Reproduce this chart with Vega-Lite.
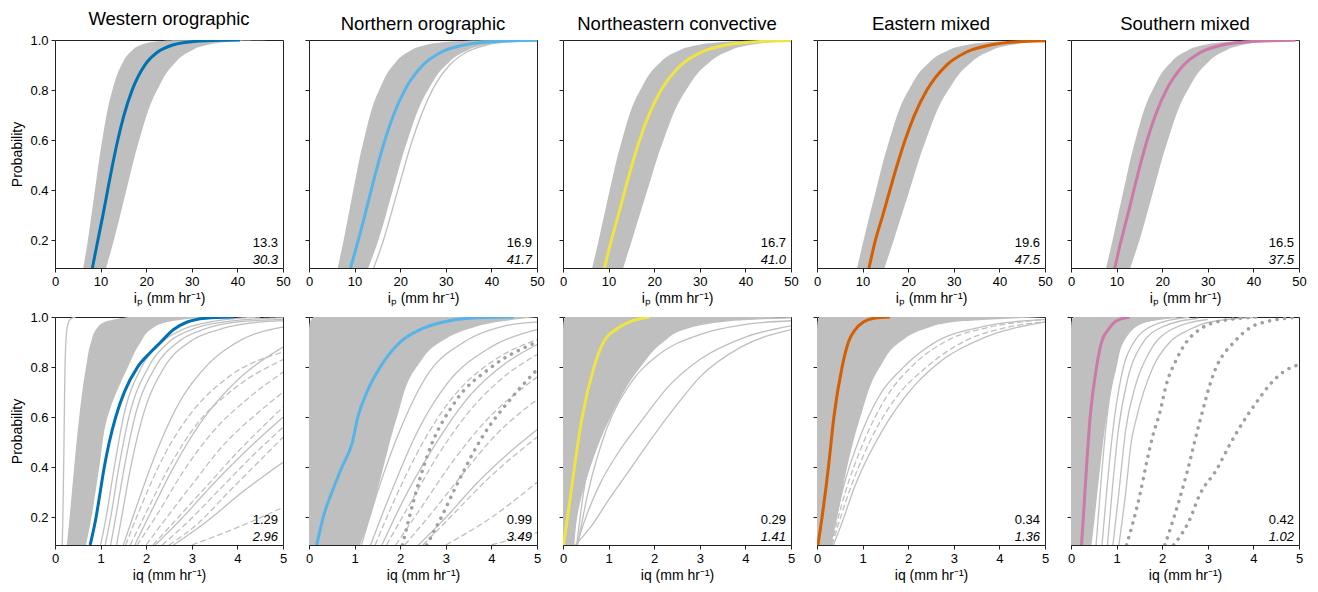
{
"$schema":"https://vega.github.io/schema/vega-lite/v6.json",
"padding":{"left":10,"top":9,"right":5,"bottom":5},
"datasets":{
"bands":[
{"g":"T1","p":0.09,"x":6.2,"hi":11.2},{"g":"T1","p":0.2,"x":7.2,"hi":12.9},{"g":"T1","p":0.4,"x":8.75,"hi":15.65},{"g":"T1","p":0.6,"x":10.35,"hi":18.47},{"g":"T1","p":0.8,"x":12.59,"hi":22.41},{"g":"T1","p":0.9,"x":14.57,"hi":25.89},{"g":"T1","p":0.95,"x":16.44,"hi":29.16},{"g":"T1","p":0.98,"x":18.83,"hi":33.35},{"g":"T1","p":0.995,"x":22.39,"hi":39.58},{"g":"T1","p":0.999,"x":26.56,"hi":46.84},
{"g":"T2","p":0.09,"x":6.3,"hi":13.0},{"g":"T2","p":0.2,"x":7.58,"hi":15.2},{"g":"T2","p":0.4,"x":9.71,"hi":18.37},{"g":"T2","p":0.6,"x":12.01,"hi":21.61},{"g":"T2","p":0.8,"x":15.38,"hi":26.1},{"g":"T2","p":0.9,"x":18.5,"hi":30.06},{"g":"T2","p":0.95,"x":21.55,"hi":33.78},{"g":"T2","p":0.98,"x":25.59,"hi":38.52},{"g":"T2","p":0.995,"x":31.86,"hi":45.54},{"g":"T2","p":0.999,"x":39.54,"hi":53.71},
{"g":"T3","p":0.09,"x":6.4,"hi":13.2},{"g":"T3","p":0.2,"x":7.81,"hi":15.1},{"g":"T3","p":0.4,"x":10.24,"hi":18.5},{"g":"T3","p":0.6,"x":12.92,"hi":22.03},{"g":"T3","p":0.8,"x":16.94,"hi":27.0},{"g":"T3","p":0.9,"x":20.74,"hi":31.42},{"g":"T3","p":0.95,"x":24.51,"hi":35.61},{"g":"T3","p":0.98,"x":29.58,"hi":41.01},{"g":"T3","p":0.995,"x":37.61,"hi":49.1},{"g":"T3","p":0.999,"x":47.64,"hi":58.63},
{"g":"T4","p":0.09,"x":8.8,"hi":14.8},{"g":"T4","p":0.2,"x":10.2,"hi":16.8},{"g":"T4","p":0.4,"x":12.93,"hi":20.29},{"g":"T4","p":0.6,"x":15.86,"hi":23.86},{"g":"T4","p":0.8,"x":20.1,"hi":28.8},{"g":"T4","p":0.9,"x":24.0,"hi":33.16},{"g":"T4","p":0.95,"x":27.78,"hi":37.24},{"g":"T4","p":0.98,"x":32.75,"hi":42.45},{"g":"T4","p":0.995,"x":40.42,"hi":50.16},{"g":"T4","p":0.999,"x":49.72,"hi":59.14},
{"g":"T5","p":0.09,"x":7.7,"hi":13.0},{"g":"T5","p":0.2,"x":9.1,"hi":15.0},{"g":"T5","p":0.4,"x":11.53,"hi":18.09},{"g":"T5","p":0.6,"x":14.12,"hi":21.24},{"g":"T5","p":0.8,"x":17.89,"hi":25.6},{"g":"T5","p":0.9,"x":21.35,"hi":29.44},{"g":"T5","p":0.95,"x":24.71,"hi":33.04},{"g":"T5","p":0.98,"x":29.12,"hi":37.62},{"g":"T5","p":0.995,"x":35.91,"hi":44.4},{"g":"T5","p":0.999,"x":44.15,"hi":52.27},
{"g":"B1","p":0.09,"x":0.26,"hi":0.68},{"g":"B1","p":0.2,"x":0.32,"hi":0.8},{"g":"B1","p":0.4,"x":0.42,"hi":0.97},{"g":"B1","p":0.6,"x":0.53,"hi":1.15},{"g":"B1","p":0.8,"x":0.68,"hi":1.6},{"g":"B1","p":0.9,"x":0.79,"hi":1.88},{"g":"B1","p":0.95,"x":0.9,"hi":2.1},{"g":"B1","p":0.98,"x":1.08,"hi":2.46},{"g":"B1","p":1.0,"x":1.6,"hi":3.3},
{"g":"B2","p":0.09,"x":0,"hi":1.12},{"g":"B2","p":0.2,"x":0,"hi":1.34},{"g":"B2","p":0.4,"x":0,"hi":1.63},{"g":"B2","p":0.6,"x":0,"hi":1.93},{"g":"B2","p":0.8,"x":0,"hi":2.36},{"g":"B2","p":0.9,"x":0,"hi":2.88},{"g":"B2","p":0.95,"x":0,"hi":3.46},{"g":"B2","p":0.98,"x":0.02,"hi":4.12},{"g":"B2","p":1.0,"x":0.1,"hi":5},
{"g":"B3","p":0.09,"x":0,"hi":0.25},{"g":"B3","p":0.2,"x":0,"hi":0.31},{"g":"B3","p":0.4,"x":0,"hi":0.6},{"g":"B3","p":0.6,"x":0,"hi":1.04},{"g":"B3","p":0.8,"x":0,"hi":1.7},{"g":"B3","p":0.9,"x":0,"hi":2.2},{"g":"B3","p":0.95,"x":0,"hi":2.65},{"g":"B3","p":0.98,"x":0.01,"hi":3.3},{"g":"B3","p":1.0,"x":0.05,"hi":5},
{"g":"B4","p":0.09,"x":0,"hi":0.29},{"g":"B4","p":0.2,"x":0,"hi":0.44},{"g":"B4","p":0.4,"x":0,"hi":0.66},{"g":"B4","p":0.6,"x":0,"hi":0.95},{"g":"B4","p":0.8,"x":0,"hi":1.38},{"g":"B4","p":0.9,"x":0,"hi":1.82},{"g":"B4","p":0.95,"x":0,"hi":2.33},{"g":"B4","p":0.98,"x":0.01,"hi":3.0},{"g":"B4","p":1.0,"x":0.05,"hi":5},
{"g":"B5","p":0.09,"x":0,"hi":0.45},{"g":"B5","p":0.2,"x":0,"hi":0.52},{"g":"B5","p":0.4,"x":0,"hi":0.64},{"g":"B5","p":0.6,"x":0,"hi":0.78},{"g":"B5","p":0.8,"x":0,"hi":1.0},{"g":"B5","p":0.9,"x":0,"hi":1.15},{"g":"B5","p":0.95,"x":0,"hi":1.33},{"g":"B5","p":0.98,"x":0.01,"hi":1.66},{"g":"B5","p":1.0,"x":0.05,"hi":2.46}
],
"lines":[
{"g":"T1","i":"m","k":"m","x":8.2,"p":0.09},{"g":"T1","i":"m","k":"m","x":9.39,"p":0.2},{"g":"T1","i":"m","k":"m","x":10.5,"p":0.3},{"g":"T1","i":"m","k":"m","x":11.54,"p":0.4},{"g":"T1","i":"m","k":"m","x":12.6,"p":0.5},{"g":"T1","i":"m","k":"m","x":13.76,"p":0.6},{"g":"T1","i":"m","k":"m","x":15.13,"p":0.7},{"g":"T1","i":"m","k":"m","x":16.91,"p":0.8},{"g":"T1","i":"m","k":"m","x":19.7,"p":0.9},{"g":"T1","i":"m","k":"m","x":22.37,"p":0.95},{"g":"T1","i":"m","k":"m","x":25.81,"p":0.98},{"g":"T1","i":"m","k":"m","x":30.96,"p":0.995},{"g":"T1","i":"m","k":"m","x":37.03,"p":0.999},{"g":"T1","i":"m","k":"m","x":40.6,"p":1.0},
{"g":"T2","i":"m","k":"m","x":9.1,"p":0.09},{"g":"T2","i":"m","k":"m","x":10.8,"p":0.2},{"g":"T2","i":"m","k":"m","x":12.24,"p":0.3},{"g":"T2","i":"m","k":"m","x":13.63,"p":0.4},{"g":"T2","i":"m","k":"m","x":15.06,"p":0.5},{"g":"T2","i":"m","k":"m","x":16.64,"p":0.6},{"g":"T2","i":"m","k":"m","x":18.52,"p":0.7},{"g":"T2","i":"m","k":"m","x":21.0,"p":0.8},{"g":"T2","i":"m","k":"m","x":24.99,"p":0.9},{"g":"T2","i":"m","k":"m","x":28.84,"p":0.95},{"g":"T2","i":"m","k":"m","x":33.9,"p":0.98},{"g":"T2","i":"m","k":"m","x":41.66,"p":0.995},{"g":"T2","i":"m","k":"m","x":51.04,"p":0.999},
{"g":"T2","i":"s1","k":"s","x":14.2,"p":0.09},{"g":"T2","i":"s1","k":"s","x":16.31,"p":0.2},{"g":"T2","i":"s1","k":"s","x":19.46,"p":0.4},{"g":"T2","i":"s1","k":"s","x":22.66,"p":0.6},{"g":"T2","i":"s1","k":"s","x":27.04,"p":0.8},{"g":"T2","i":"s1","k":"s","x":30.85,"p":0.9},{"g":"T2","i":"s1","k":"s","x":34.4,"p":0.95},{"g":"T2","i":"s1","k":"s","x":38.89,"p":0.98},{"g":"T2","i":"s1","k":"s","x":45.48,"p":0.995},{"g":"T2","i":"s1","k":"s","x":53.06,"p":0.999},
{"g":"T3","i":"m","k":"m","x":9.1,"p":0.09},{"g":"T3","i":"m","k":"m","x":10.6,"p":0.2},{"g":"T3","i":"m","k":"m","x":12.12,"p":0.3},{"g":"T3","i":"m","k":"m","x":13.58,"p":0.4},{"g":"T3","i":"m","k":"m","x":15.1,"p":0.5},{"g":"T3","i":"m","k":"m","x":16.79,"p":0.6},{"g":"T3","i":"m","k":"m","x":18.82,"p":0.7},{"g":"T3","i":"m","k":"m","x":21.51,"p":0.8},{"g":"T3","i":"m","k":"m","x":25.87,"p":0.9},{"g":"T3","i":"m","k":"m","x":30.13,"p":0.95},{"g":"T3","i":"m","k":"m","x":35.78,"p":0.98},{"g":"T3","i":"m","k":"m","x":44.55,"p":0.995},{"g":"T3","i":"m","k":"m","x":55.28,"p":0.999},
{"g":"T4","i":"m","k":"m","x":11.4,"p":0.09},{"g":"T4","i":"m","k":"m","x":12.8,"p":0.2},{"g":"T4","i":"m","k":"m","x":14.42,"p":0.3},{"g":"T4","i":"m","k":"m","x":15.97,"p":0.4},{"g":"T4","i":"m","k":"m","x":17.56,"p":0.5},{"g":"T4","i":"m","k":"m","x":19.31,"p":0.6},{"g":"T4","i":"m","k":"m","x":21.38,"p":0.7},{"g":"T4","i":"m","k":"m","x":24.1,"p":0.8},{"g":"T4","i":"m","k":"m","x":28.43,"p":0.9},{"g":"T4","i":"m","k":"m","x":32.58,"p":0.95},{"g":"T4","i":"m","k":"m","x":38.0,"p":0.98},{"g":"T4","i":"m","k":"m","x":46.23,"p":0.995},{"g":"T4","i":"m","k":"m","x":56.08,"p":0.999},
{"g":"T5","i":"m","k":"m","x":9.6,"p":0.09},{"g":"T5","i":"m","k":"m","x":11.0,"p":0.2},{"g":"T5","i":"m","k":"m","x":12.42,"p":0.3},{"g":"T5","i":"m","k":"m","x":13.77,"p":0.4},{"g":"T5","i":"m","k":"m","x":15.16,"p":0.5},{"g":"T5","i":"m","k":"m","x":16.69,"p":0.6},{"g":"T5","i":"m","k":"m","x":18.51,"p":0.7},{"g":"T5","i":"m","k":"m","x":20.9,"p":0.8},{"g":"T5","i":"m","k":"m","x":24.71,"p":0.9},{"g":"T5","i":"m","k":"m","x":28.38,"p":0.95},{"g":"T5","i":"m","k":"m","x":33.17,"p":0.98},{"g":"T5","i":"m","k":"m","x":40.47,"p":0.995},{"g":"T5","i":"m","k":"m","x":49.23,"p":0.999},

{"g":"B1","i":"m","k":"m","x":0.77,"p":0.09},{"g":"B1","i":"m","k":"m","x":0.9,"p":0.2},{"g":"B1","i":"m","k":"m","x":0.99,"p":0.3},{"g":"B1","i":"m","k":"m","x":1.08,"p":0.4},{"g":"B1","i":"m","k":"m","x":1.19,"p":0.5},{"g":"B1","i":"m","k":"m","x":1.33,"p":0.6},{"g":"B1","i":"m","k":"m","x":1.52,"p":0.7},{"g":"B1","i":"m","k":"m","x":1.81,"p":0.8},{"g":"B1","i":"m","k":"m","x":2.1,"p":0.86},{"g":"B1","i":"m","k":"m","x":2.32,"p":0.9},{"g":"B1","i":"m","k":"m","x":2.6,"p":0.95},{"g":"B1","i":"m","k":"m","x":2.9,"p":0.98},{"g":"B1","i":"m","k":"m","x":3.3,"p":0.995},{"g":"B1","i":"m","k":"m","x":3.92,"p":1.0},
{"g":"B1","i":"o1","k":"s","x":0.16,"p":0.09},{"g":"B1","i":"o1","k":"s","x":0.19,"p":0.4},{"g":"B1","i":"o1","k":"s","x":0.22,"p":0.8},{"g":"B1","i":"o1","k":"s","x":0.26,"p":0.95},{"g":"B1","i":"o1","k":"s","x":0.33,"p":0.99},{"g":"B1","i":"o1","k":"s","x":0.45,"p":1.0},
{"g":"B1","i":"L1","k":"s","x":1.0,"p":0.09},{"g":"B1","i":"L1","k":"s","x":1.12,"p":0.2},{"g":"B1","i":"L1","k":"s","x":1.3,"p":0.4},{"g":"B1","i":"L1","k":"s","x":1.5,"p":0.6},{"g":"B1","i":"L1","k":"s","x":1.9,"p":0.8},{"g":"B1","i":"L1","k":"s","x":2.35,"p":0.9},{"g":"B1","i":"L1","k":"s","x":2.8,"p":0.95},{"g":"B1","i":"L1","k":"s","x":3.4,"p":0.98},{"g":"B1","i":"L1","k":"s","x":4.5,"p":1.0},
{"g":"B1","i":"L2","k":"s","x":1.1,"p":0.09},{"g":"B1","i":"L2","k":"s","x":1.22,"p":0.2},{"g":"B1","i":"L2","k":"s","x":1.4,"p":0.4},{"g":"B1","i":"L2","k":"s","x":1.62,"p":0.6},{"g":"B1","i":"L2","k":"s","x":2.05,"p":0.8},{"g":"B1","i":"L2","k":"s","x":2.5,"p":0.9},{"g":"B1","i":"L2","k":"s","x":3.0,"p":0.95},{"g":"B1","i":"L2","k":"s","x":3.7,"p":0.98},{"g":"B1","i":"L2","k":"s","x":5,"p":0.997},
{"g":"B1","i":"L3","k":"s","x":1.22,"p":0.09},{"g":"B1","i":"L3","k":"s","x":1.33,"p":0.2},{"g":"B1","i":"L3","k":"s","x":1.52,"p":0.4},{"g":"B1","i":"L3","k":"s","x":1.75,"p":0.6},{"g":"B1","i":"L3","k":"s","x":2.2,"p":0.8},{"g":"B1","i":"L3","k":"s","x":2.7,"p":0.9},{"g":"B1","i":"L3","k":"s","x":3.25,"p":0.95},{"g":"B1","i":"L3","k":"s","x":4.0,"p":0.98},{"g":"B1","i":"L3","k":"s","x":5,"p":0.99},
{"g":"B1","i":"L4","k":"s","x":1.35,"p":0.09},{"g":"B1","i":"L4","k":"s","x":1.46,"p":0.2},{"g":"B1","i":"L4","k":"s","x":1.66,"p":0.4},{"g":"B1","i":"L4","k":"s","x":1.92,"p":0.6},{"g":"B1","i":"L4","k":"s","x":2.4,"p":0.8},{"g":"B1","i":"L4","k":"s","x":2.95,"p":0.9},{"g":"B1","i":"L4","k":"s","x":3.6,"p":0.95},{"g":"B1","i":"L4","k":"s","x":4.5,"p":0.98},{"g":"B1","i":"L4","k":"s","x":5,"p":0.985},
{"g":"B1","i":"S5","k":"s","x":1.5,"p":0.09},{"g":"B1","i":"S5","k":"s","x":1.8,"p":0.25},{"g":"B1","i":"S5","k":"s","x":2.2,"p":0.45},{"g":"B1","i":"S5","k":"s","x":2.7,"p":0.65},{"g":"B1","i":"S5","k":"s","x":3.3,"p":0.8},{"g":"B1","i":"S5","k":"s","x":4.0,"p":0.9},{"g":"B1","i":"S5","k":"s","x":5,"p":0.96},
{"g":"B1","i":"S6","k":"s","x":1.75,"p":0.09},{"g":"B1","i":"S6","k":"s","x":2.1,"p":0.22},{"g":"B1","i":"S6","k":"s","x":2.6,"p":0.4},{"g":"B1","i":"S6","k":"s","x":3.2,"p":0.58},{"g":"B1","i":"S6","k":"s","x":3.9,"p":0.73},{"g":"B1","i":"S6","k":"s","x":5,"p":0.88},
{"g":"B1","i":"S7","k":"s","x":2.2,"p":0.09},{"g":"B1","i":"S7","k":"s","x":2.8,"p":0.2},{"g":"B1","i":"S7","k":"s","x":3.4,"p":0.32},{"g":"B1","i":"S7","k":"s","x":4.1,"p":0.45},{"g":"B1","i":"S7","k":"s","x":5,"p":0.6},
{"g":"B1","i":"S8","k":"s","x":2.6,"p":0.09},{"g":"B1","i":"S8","k":"s","x":3.3,"p":0.18},{"g":"B1","i":"S8","k":"s","x":4.1,"p":0.3},{"g":"B1","i":"S8","k":"s","x":5,"p":0.42},
{"g":"B1","i":"D1","k":"d","x":1.55,"p":0.09},{"g":"B1","i":"D1","k":"d","x":1.9,"p":0.25},{"g":"B1","i":"D1","k":"d","x":2.4,"p":0.45},{"g":"B1","i":"D1","k":"d","x":3.0,"p":0.62},{"g":"B1","i":"D1","k":"d","x":3.8,"p":0.76},{"g":"B1","i":"D1","k":"d","x":5,"p":0.86},
{"g":"B1","i":"D2","k":"d","x":1.65,"p":0.09},{"g":"B1","i":"D2","k":"d","x":2.0,"p":0.22},{"g":"B1","i":"D2","k":"d","x":2.5,"p":0.4},{"g":"B1","i":"D2","k":"d","x":3.1,"p":0.57},{"g":"B1","i":"D2","k":"d","x":3.9,"p":0.71},{"g":"B1","i":"D2","k":"d","x":5,"p":0.83},
{"g":"B1","i":"D3","k":"d","x":1.8,"p":0.09},{"g":"B1","i":"D3","k":"d","x":2.2,"p":0.2},{"g":"B1","i":"D3","k":"d","x":2.8,"p":0.38},{"g":"B1","i":"D3","k":"d","x":3.5,"p":0.55},{"g":"B1","i":"D3","k":"d","x":4.2,"p":0.67},{"g":"B1","i":"D3","k":"d","x":5,"p":0.78},
{"g":"B1","i":"D4","k":"d","x":2.0,"p":0.09},{"g":"B1","i":"D4","k":"d","x":2.45,"p":0.2},{"g":"B1","i":"D4","k":"d","x":3.0,"p":0.33},{"g":"B1","i":"D4","k":"d","x":3.7,"p":0.49},{"g":"B1","i":"D4","k":"d","x":4.4,"p":0.61},{"g":"B1","i":"D4","k":"d","x":5,"p":0.7},
{"g":"B1","i":"D5","k":"d","x":2.15,"p":0.09},{"g":"B1","i":"D5","k":"d","x":2.7,"p":0.2},{"g":"B1","i":"D5","k":"d","x":3.3,"p":0.32},{"g":"B1","i":"D5","k":"d","x":4.0,"p":0.46},{"g":"B1","i":"D5","k":"d","x":5,"p":0.64},
{"g":"B1","i":"D6","k":"d","x":2.35,"p":0.09},{"g":"B1","i":"D6","k":"d","x":2.9,"p":0.18},{"g":"B1","i":"D6","k":"d","x":3.6,"p":0.31},{"g":"B1","i":"D6","k":"d","x":4.3,"p":0.44},{"g":"B1","i":"D6","k":"d","x":5,"p":0.56},
{"g":"B1","i":"D7","k":"d","x":2.5,"p":0.09},{"g":"B1","i":"D7","k":"d","x":3.1,"p":0.17},{"g":"B1","i":"D7","k":"d","x":3.8,"p":0.3},{"g":"B1","i":"D7","k":"d","x":5,"p":0.52},
{"g":"B1","i":"D8","k":"d","x":3.0,"p":0.09},{"g":"B1","i":"D8","k":"d","x":4.0,"p":0.16},{"g":"B1","i":"D8","k":"d","x":5,"p":0.24},

{"g":"B2","i":"m","k":"m","x":0.17,"p":0.09},{"g":"B2","i":"m","k":"m","x":0.31,"p":0.2},{"g":"B2","i":"m","k":"m","x":0.5,"p":0.3},{"g":"B2","i":"m","k":"m","x":0.72,"p":0.4},{"g":"B2","i":"m","k":"m","x":0.95,"p":0.5},{"g":"B2","i":"m","k":"m","x":1.07,"p":0.6},{"g":"B2","i":"m","k":"m","x":1.27,"p":0.7},{"g":"B2","i":"m","k":"m","x":1.56,"p":0.8},{"g":"B2","i":"m","k":"m","x":2.0,"p":0.9},{"g":"B2","i":"m","k":"m","x":2.44,"p":0.95},{"g":"B2","i":"m","k":"m","x":2.95,"p":0.98},{"g":"B2","i":"m","k":"m","x":3.5,"p":0.995},{"g":"B2","i":"m","k":"m","x":4.49,"p":1.0},
{"g":"B2","i":"S1","k":"s","x":1.15,"p":0.09},{"g":"B2","i":"S1","k":"s","x":1.5,"p":0.3},{"g":"B2","i":"S1","k":"s","x":2.0,"p":0.55},{"g":"B2","i":"S1","k":"s","x":2.6,"p":0.77},{"g":"B2","i":"S1","k":"s","x":3.4,"p":0.9},{"g":"B2","i":"S1","k":"s","x":4.2,"p":0.96},{"g":"B2","i":"S1","k":"s","x":5,"p":0.98},
{"g":"B2","i":"S2","k":"s","x":1.35,"p":0.09},{"g":"B2","i":"S2","k":"s","x":1.8,"p":0.3},{"g":"B2","i":"S2","k":"s","x":2.4,"p":0.55},{"g":"B2","i":"S2","k":"s","x":3.1,"p":0.75},{"g":"B2","i":"S2","k":"s","x":3.9,"p":0.87},{"g":"B2","i":"S2","k":"s","x":5,"p":0.95},
{"g":"B2","i":"S3","k":"s","x":1.6,"p":0.09},{"g":"B2","i":"S3","k":"s","x":2.1,"p":0.28},{"g":"B2","i":"S3","k":"s","x":2.8,"p":0.5},{"g":"B2","i":"S3","k":"s","x":3.5,"p":0.68},{"g":"B2","i":"S3","k":"s","x":4.2,"p":0.8},{"g":"B2","i":"S3","k":"s","x":5,"p":0.89},
{"g":"B2","i":"S4","k":"s","x":2.4,"p":0.09},{"g":"B2","i":"S4","k":"s","x":3.0,"p":0.2},{"g":"B2","i":"S4","k":"s","x":3.7,"p":0.34},{"g":"B2","i":"S4","k":"s","x":4.4,"p":0.46},{"g":"B2","i":"S4","k":"s","x":5,"p":0.55},
{"g":"B2","i":"D1","k":"d","x":1.45,"p":0.09},{"g":"B2","i":"D1","k":"d","x":1.9,"p":0.28},{"g":"B2","i":"D1","k":"d","x":2.5,"p":0.5},{"g":"B2","i":"D1","k":"d","x":3.2,"p":0.69},{"g":"B2","i":"D1","k":"d","x":4.0,"p":0.82},{"g":"B2","i":"D1","k":"d","x":5,"p":0.91},
{"g":"B2","i":"D2","k":"d","x":1.7,"p":0.09},{"g":"B2","i":"D2","k":"d","x":2.2,"p":0.25},{"g":"B2","i":"D2","k":"d","x":2.8,"p":0.44},{"g":"B2","i":"D2","k":"d","x":3.5,"p":0.62},{"g":"B2","i":"D2","k":"d","x":4.2,"p":0.75},{"g":"B2","i":"D2","k":"d","x":5,"p":0.85},
{"g":"B2","i":"D3","k":"d","x":1.9,"p":0.09},{"g":"B2","i":"D3","k":"d","x":2.5,"p":0.25},{"g":"B2","i":"D3","k":"d","x":3.1,"p":0.41},{"g":"B2","i":"D3","k":"d","x":3.8,"p":0.57},{"g":"B2","i":"D3","k":"d","x":5,"p":0.76},
{"g":"B2","i":"D4","k":"d","x":2.1,"p":0.09},{"g":"B2","i":"D4","k":"d","x":2.7,"p":0.22},{"g":"B2","i":"D4","k":"d","x":3.4,"p":0.38},{"g":"B2","i":"D4","k":"d","x":4.1,"p":0.53},{"g":"B2","i":"D4","k":"d","x":5,"p":0.67},
{"g":"B2","i":"D5","k":"d","x":2.5,"p":0.09},{"g":"B2","i":"D5","k":"d","x":3.2,"p":0.22},{"g":"B2","i":"D5","k":"d","x":3.9,"p":0.35},{"g":"B2","i":"D5","k":"d","x":5,"p":0.52},
{"g":"B2","i":"D6","k":"d","x":3.0,"p":0.09},{"g":"B2","i":"D6","k":"d","x":4.0,"p":0.2},{"g":"B2","i":"D6","k":"d","x":5,"p":0.34},
{"g":"B2","i":"D7","k":"d","x":4.0,"p":0.09},{"g":"B2","i":"D7","k":"d","x":5,"p":0.14},
{"g":"B2","i":"O1","k":"o","x":2.05,"p":0.09},{"g":"B2","i":"O1","k":"o","x":2.3,"p":0.27},{"g":"B2","i":"O1","k":"o","x":2.6,"p":0.45},{"g":"B2","i":"O1","k":"o","x":3.2,"p":0.66},{"g":"B2","i":"O1","k":"o","x":4.0,"p":0.8},{"g":"B2","i":"O1","k":"o","x":5,"p":0.9},
{"g":"B2","i":"O2","k":"o","x":2.58,"p":0.09},{"g":"B2","i":"O2","k":"o","x":2.9,"p":0.2},{"g":"B2","i":"O2","k":"o","x":3.24,"p":0.33},{"g":"B2","i":"O2","k":"o","x":3.83,"p":0.53},{"g":"B2","i":"O2","k":"o","x":4.41,"p":0.67},{"g":"B2","i":"O2","k":"o","x":5,"p":0.79},

{"g":"B3","i":"m","k":"m","x":0.01,"p":0.09},{"g":"B3","i":"m","k":"m","x":0.1,"p":0.2},{"g":"B3","i":"m","k":"m","x":0.25,"p":0.4},{"g":"B3","i":"m","k":"m","x":0.42,"p":0.6},{"g":"B3","i":"m","k":"m","x":0.68,"p":0.8},{"g":"B3","i":"m","k":"m","x":0.89,"p":0.9},{"g":"B3","i":"m","k":"m","x":1.16,"p":0.95},{"g":"B3","i":"m","k":"m","x":1.45,"p":0.98},{"g":"B3","i":"m","k":"m","x":1.9,"p":1.0},
{"g":"B3","i":"O1","k":"s","x":0.27,"p":0.09},{"g":"B3","i":"O1","k":"s","x":0.6,"p":0.16},{"g":"B3","i":"O1","k":"s","x":1.0,"p":0.27},{"g":"B3","i":"O1","k":"s","x":1.5,"p":0.4},{"g":"B3","i":"O1","k":"s","x":2.0,"p":0.53},{"g":"B3","i":"O1","k":"s","x":2.5,"p":0.65},{"g":"B3","i":"O1","k":"s","x":3.0,"p":0.76},{"g":"B3","i":"O1","k":"s","x":3.9,"p":0.88},{"g":"B3","i":"O1","k":"s","x":5,"p":0.95},
{"g":"B3","i":"O2","k":"s","x":0.3,"p":0.09},{"g":"B3","i":"O2","k":"s","x":0.5,"p":0.2},{"g":"B3","i":"O2","k":"s","x":0.8,"p":0.33},{"g":"B3","i":"O2","k":"s","x":1.18,"p":0.45},{"g":"B3","i":"O2","k":"s","x":1.7,"p":0.58},{"g":"B3","i":"O2","k":"s","x":2.3,"p":0.72},{"g":"B3","i":"O2","k":"s","x":3.0,"p":0.83},{"g":"B3","i":"O2","k":"s","x":4.0,"p":0.92},{"g":"B3","i":"O2","k":"s","x":5,"p":0.965},
{"g":"B3","i":"M1","k":"s","x":0.3,"p":0.09},{"g":"B3","i":"M1","k":"s","x":0.45,"p":0.3},{"g":"B3","i":"M1","k":"s","x":0.75,"p":0.55},{"g":"B3","i":"M1","k":"s","x":1.2,"p":0.75},{"g":"B3","i":"M1","k":"s","x":1.8,"p":0.88},{"g":"B3","i":"M1","k":"s","x":2.6,"p":0.95},{"g":"B3","i":"M1","k":"s","x":3.6,"p":0.985},{"g":"B3","i":"M1","k":"s","x":5,"p":0.997},
{"g":"B3","i":"M2","k":"s","x":0.32,"p":0.09},{"g":"B3","i":"M2","k":"s","x":0.55,"p":0.3},{"g":"B3","i":"M2","k":"s","x":0.95,"p":0.55},{"g":"B3","i":"M2","k":"s","x":1.5,"p":0.74},{"g":"B3","i":"M2","k":"s","x":2.1,"p":0.85},{"g":"B3","i":"M2","k":"s","x":3.0,"p":0.93},{"g":"B3","i":"M2","k":"s","x":4.0,"p":0.97},{"g":"B3","i":"M2","k":"s","x":5,"p":0.985},

{"g":"B4","i":"m","k":"m","x":0.02,"p":0.09},{"g":"B4","i":"m","k":"m","x":0.11,"p":0.2},{"g":"B4","i":"m","k":"m","x":0.25,"p":0.4},{"g":"B4","i":"m","k":"m","x":0.37,"p":0.6},{"g":"B4","i":"m","k":"m","x":0.55,"p":0.8},{"g":"B4","i":"m","k":"m","x":0.69,"p":0.9},{"g":"B4","i":"m","k":"m","x":0.84,"p":0.95},{"g":"B4","i":"m","k":"m","x":1.02,"p":0.98},{"g":"B4","i":"m","k":"m","x":1.25,"p":0.995},{"g":"B4","i":"m","k":"m","x":1.6,"p":1.0},
{"g":"B4","i":"O1","k":"s","x":0.36,"p":0.09},{"g":"B4","i":"O1","k":"s","x":0.55,"p":0.18},{"g":"B4","i":"O1","k":"s","x":0.8,"p":0.31},{"g":"B4","i":"O1","k":"s","x":1.38,"p":0.53},{"g":"B4","i":"O1","k":"s","x":1.97,"p":0.69},{"g":"B4","i":"O1","k":"s","x":2.69,"p":0.82},{"g":"B4","i":"O1","k":"s","x":3.57,"p":0.91},{"g":"B4","i":"O1","k":"s","x":5,"p":0.98},
{"g":"B4","i":"O2","k":"s","x":0.3,"p":0.09},{"g":"B4","i":"O2","k":"s","x":0.55,"p":0.3},{"g":"B4","i":"O2","k":"s","x":0.9,"p":0.5},{"g":"B4","i":"O2","k":"s","x":1.35,"p":0.68},{"g":"B4","i":"O2","k":"s","x":1.9,"p":0.8},{"g":"B4","i":"O2","k":"s","x":2.6,"p":0.9},{"g":"B4","i":"O2","k":"s","x":3.6,"p":0.96},{"g":"B4","i":"O2","k":"s","x":5,"p":0.99},
{"g":"B4","i":"D1","k":"d","x":0.31,"p":0.09},{"g":"B4","i":"D1","k":"d","x":0.62,"p":0.3},{"g":"B4","i":"D1","k":"d","x":1.02,"p":0.5},{"g":"B4","i":"D1","k":"d","x":1.52,"p":0.68},{"g":"B4","i":"D1","k":"d","x":2.12,"p":0.81},{"g":"B4","i":"D1","k":"d","x":2.9,"p":0.91},{"g":"B4","i":"D1","k":"d","x":3.8,"p":0.96},{"g":"B4","i":"D1","k":"d","x":5,"p":0.99},
{"g":"B4","i":"D2","k":"d","x":0.33,"p":0.09},{"g":"B4","i":"D2","k":"d","x":0.7,"p":0.3},{"g":"B4","i":"D2","k":"d","x":1.15,"p":0.5},{"g":"B4","i":"D2","k":"d","x":1.7,"p":0.67},{"g":"B4","i":"D2","k":"d","x":2.4,"p":0.8},{"g":"B4","i":"D2","k":"d","x":3.2,"p":0.9},{"g":"B4","i":"D2","k":"d","x":4.2,"p":0.96},{"g":"B4","i":"D2","k":"d","x":5,"p":0.98},

{"g":"B5","i":"m","k":"m","x":0.23,"p":0.09},{"g":"B5","i":"m","k":"m","x":0.27,"p":0.2},{"g":"B5","i":"m","k":"m","x":0.34,"p":0.4},{"g":"B5","i":"m","k":"m","x":0.42,"p":0.6},{"g":"B5","i":"m","k":"m","x":0.56,"p":0.8},{"g":"B5","i":"m","k":"m","x":0.67,"p":0.9},{"g":"B5","i":"m","k":"m","x":0.82,"p":0.95},{"g":"B5","i":"m","k":"m","x":1.0,"p":0.985},{"g":"B5","i":"m","k":"m","x":1.29,"p":1.0},
{"g":"B5","i":"S1","k":"s","x":0.55,"p":0.09},{"g":"B5","i":"S1","k":"s","x":0.64,"p":0.3},{"g":"B5","i":"S1","k":"s","x":0.76,"p":0.55},{"g":"B5","i":"S1","k":"s","x":0.93,"p":0.78},{"g":"B5","i":"S1","k":"s","x":1.2,"p":0.92},{"g":"B5","i":"S1","k":"s","x":1.6,"p":0.98},{"g":"B5","i":"S1","k":"s","x":2.3,"p":1.0},
{"g":"B5","i":"S2","k":"s","x":0.68,"p":0.09},{"g":"B5","i":"S2","k":"s","x":0.78,"p":0.3},{"g":"B5","i":"S2","k":"s","x":0.92,"p":0.55},{"g":"B5","i":"S2","k":"s","x":1.1,"p":0.76},{"g":"B5","i":"S2","k":"s","x":1.38,"p":0.9},{"g":"B5","i":"S2","k":"s","x":1.85,"p":0.97},{"g":"B5","i":"S2","k":"s","x":2.6,"p":1.0},
{"g":"B5","i":"S3","k":"s","x":0.8,"p":0.09},{"g":"B5","i":"S3","k":"s","x":0.9,"p":0.3},{"g":"B5","i":"S3","k":"s","x":1.04,"p":0.55},{"g":"B5","i":"S3","k":"s","x":1.24,"p":0.75},{"g":"B5","i":"S3","k":"s","x":1.55,"p":0.89},{"g":"B5","i":"S3","k":"s","x":2.0,"p":0.96},{"g":"B5","i":"S3","k":"s","x":2.8,"p":0.995},
{"g":"B5","i":"S4","k":"s","x":0.92,"p":0.09},{"g":"B5","i":"S4","k":"s","x":1.05,"p":0.3},{"g":"B5","i":"S4","k":"s","x":1.2,"p":0.55},{"g":"B5","i":"S4","k":"s","x":1.42,"p":0.73},{"g":"B5","i":"S4","k":"s","x":1.72,"p":0.86},{"g":"B5","i":"S4","k":"s","x":2.2,"p":0.95},{"g":"B5","i":"S4","k":"s","x":3.0,"p":0.99},
{"g":"B5","i":"S5","k":"s","x":1.05,"p":0.09},{"g":"B5","i":"S5","k":"s","x":1.2,"p":0.3},{"g":"B5","i":"S5","k":"s","x":1.32,"p":0.5},{"g":"B5","i":"S5","k":"s","x":1.44,"p":0.6},{"g":"B5","i":"S5","k":"s","x":1.8,"p":0.8},{"g":"B5","i":"S5","k":"s","x":2.17,"p":0.9},{"g":"B5","i":"S5","k":"s","x":2.6,"p":0.95},{"g":"B5","i":"S5","k":"s","x":3.05,"p":0.98},{"g":"B5","i":"S5","k":"s","x":4.0,"p":0.998},
{"g":"B5","i":"O1","k":"o","x":1.22,"p":0.09},{"g":"B5","i":"O1","k":"o","x":1.51,"p":0.29},{"g":"B5","i":"O1","k":"o","x":1.66,"p":0.42},{"g":"B5","i":"O1","k":"o","x":1.8,"p":0.53},{"g":"B5","i":"O1","k":"o","x":1.95,"p":0.62},{"g":"B5","i":"O1","k":"o","x":2.09,"p":0.73},{"g":"B5","i":"O1","k":"o","x":2.31,"p":0.83},{"g":"B5","i":"O1","k":"o","x":2.53,"p":0.9},{"g":"B5","i":"O1","k":"o","x":2.82,"p":0.95},{"g":"B5","i":"O1","k":"o","x":3.19,"p":0.98},{"g":"B5","i":"O1","k":"o","x":4.07,"p":1.0},
{"g":"B5","i":"O2","k":"o","x":2.06,"p":0.09},{"g":"B5","i":"O2","k":"o","x":2.24,"p":0.19},{"g":"B5","i":"O2","k":"o","x":2.53,"p":0.37},{"g":"B5","i":"O2","k":"o","x":2.82,"p":0.58},{"g":"B5","i":"O2","k":"o","x":3.12,"p":0.77},{"g":"B5","i":"O2","k":"o","x":3.63,"p":0.91},{"g":"B5","i":"O2","k":"o","x":4.07,"p":0.97},{"g":"B5","i":"O2","k":"o","x":5,"p":1.0},
{"g":"B5","i":"O3","k":"o","x":2.25,"p":0.09},{"g":"B5","i":"O3","k":"o","x":2.6,"p":0.19},{"g":"B5","i":"O3","k":"o","x":2.82,"p":0.29},{"g":"B5","i":"O3","k":"o","x":3.19,"p":0.39},{"g":"B5","i":"O3","k":"o","x":3.48,"p":0.49},{"g":"B5","i":"O3","k":"o","x":3.77,"p":0.58},{"g":"B5","i":"O3","k":"o","x":4.07,"p":0.66},{"g":"B5","i":"O3","k":"o","x":4.36,"p":0.73},{"g":"B5","i":"O3","k":"o","x":4.65,"p":0.78},{"g":"B5","i":"O3","k":"o","x":5,"p":0.81}
],
"notes":[
{"g":"T1","a":"13.3","b":"30.3"},{"g":"T2","a":"16.9","b":"41.7"},{"g":"T3","a":"16.7","b":"41.0"},{"g":"T4","a":"19.6","b":"47.5"},{"g":"T5","a":"16.5","b":"37.5"},
{"g":"B1","a":"1.29","b":"2.96"},{"g":"B2","a":"0.99","b":"3.49"},{"g":"B3","a":"0.29","b":"1.41"},{"g":"B4","a":"0.34","b":"1.36"},{"g":"B5","a":"0.42","b":"1.02"}
]
},
"spacing":4,
"vconcat":[
{"hconcat":[
{"width":228,"height":228,"title":"Western orographic",
"encoding":{"x":{"field":"x","type":"quantitative","scale":{"domain":[0,50],"nice":false,"zero":false},"axis":{"title":"iₚ (mm hr⁻¹)","values":[0,10,20,30,40,50],"format":"d"}},"y":{"field":"p","type":"quantitative","scale":{"domain":[0.09,1],"nice":false,"zero":false},"axis":{"title":"Probability","values":[0.2,0.4,0.6,0.8,1.0],"format":".1f"}}},
"layer":[
{"data":{"name":"bands"},"transform":[{"filter":"datum.g==='T1'"}],"mark":{"type":"area","orient":"horizontal","interpolate":"monotone","color":"#bfbfbf","clip":true},"encoding":{"x2":{"field":"hi"}}},
{"data":{"name":"lines"},"transform":[{"filter":"datum.g==='T1' && datum.k==='m'"}],"mark":{"type":"line","interpolate":"monotone","color":"#0072B2","strokeWidth":3,"clip":true}},
{"data":{"name":"notes"},"transform":[{"filter":"datum.g==='T1'"}],"mark":{"type":"text","align":"right","baseline":"alphabetic","dx":-5,"dy":-21,"fontSize":13},"encoding":{"text":{"field":"a"},"x":{"value":"width"},"y":{"value":"height"}}},
{"data":{"name":"notes"},"transform":[{"filter":"datum.g==='T1'"}],"mark":{"type":"text","align":"right","baseline":"alphabetic","dx":-5,"dy":-4,"fontSize":13,"fontStyle":"italic"},"encoding":{"text":{"field":"b"},"x":{"value":"width"},"y":{"value":"height"}}}
]},
{"width":228,"height":228,"title":"Northern orographic",
"encoding":{"x":{"field":"x","type":"quantitative","scale":{"domain":[0,50],"nice":false,"zero":false},"axis":{"title":"iₚ (mm hr⁻¹)","values":[0,10,20,30,40,50],"format":"d"}},"y":{"field":"p","type":"quantitative","scale":{"domain":[0.09,1],"nice":false,"zero":false},"axis":{"title":null,"labels":false,"values":[0.2,0.4,0.6,0.8,1.0]}}},
"layer":[
{"data":{"name":"bands"},"transform":[{"filter":"datum.g==='T2'"}],"mark":{"type":"area","orient":"horizontal","interpolate":"monotone","color":"#bfbfbf","clip":true},"encoding":{"x2":{"field":"hi"}}},
{"data":{"name":"lines"},"transform":[{"filter":"datum.g==='T2' && datum.k==='s'"}],"mark":{"type":"line","interpolate":"monotone","color":"#bfbfbf","strokeWidth":1.3,"clip":true},"encoding":{"detail":{"field":"i"}}},
{"data":{"name":"lines"},"transform":[{"filter":"datum.g==='T2' && datum.k==='m'"}],"mark":{"type":"line","interpolate":"monotone","color":"#56B4E9","strokeWidth":3,"clip":true}},
{"data":{"name":"notes"},"transform":[{"filter":"datum.g==='T2'"}],"mark":{"type":"text","align":"right","baseline":"alphabetic","dx":-5,"dy":-21,"fontSize":13},"encoding":{"text":{"field":"a"},"x":{"value":"width"},"y":{"value":"height"}}},
{"data":{"name":"notes"},"transform":[{"filter":"datum.g==='T2'"}],"mark":{"type":"text","align":"right","baseline":"alphabetic","dx":-5,"dy":-4,"fontSize":13,"fontStyle":"italic"},"encoding":{"text":{"field":"b"},"x":{"value":"width"},"y":{"value":"height"}}}
]},
{"width":228,"height":228,"title":"Northeastern convective",
"encoding":{"x":{"field":"x","type":"quantitative","scale":{"domain":[0,50],"nice":false,"zero":false},"axis":{"title":"iₚ (mm hr⁻¹)","values":[0,10,20,30,40,50],"format":"d"}},"y":{"field":"p","type":"quantitative","scale":{"domain":[0.09,1],"nice":false,"zero":false},"axis":{"title":null,"labels":false,"values":[0.2,0.4,0.6,0.8,1.0]}}},
"layer":[
{"data":{"name":"bands"},"transform":[{"filter":"datum.g==='T3'"}],"mark":{"type":"area","orient":"horizontal","interpolate":"monotone","color":"#bfbfbf","clip":true},"encoding":{"x2":{"field":"hi"}}},
{"data":{"name":"lines"},"transform":[{"filter":"datum.g==='T3' && datum.k==='m'"}],"mark":{"type":"line","interpolate":"monotone","color":"#F0E442","strokeWidth":3,"clip":true}},
{"data":{"name":"notes"},"transform":[{"filter":"datum.g==='T3'"}],"mark":{"type":"text","align":"right","baseline":"alphabetic","dx":-5,"dy":-21,"fontSize":13},"encoding":{"text":{"field":"a"},"x":{"value":"width"},"y":{"value":"height"}}},
{"data":{"name":"notes"},"transform":[{"filter":"datum.g==='T3'"}],"mark":{"type":"text","align":"right","baseline":"alphabetic","dx":-5,"dy":-4,"fontSize":13,"fontStyle":"italic"},"encoding":{"text":{"field":"b"},"x":{"value":"width"},"y":{"value":"height"}}}
]},
{"width":228,"height":228,"title":"Eastern mixed",
"encoding":{"x":{"field":"x","type":"quantitative","scale":{"domain":[0,50],"nice":false,"zero":false},"axis":{"title":"iₚ (mm hr⁻¹)","values":[0,10,20,30,40,50],"format":"d"}},"y":{"field":"p","type":"quantitative","scale":{"domain":[0.09,1],"nice":false,"zero":false},"axis":{"title":null,"labels":false,"values":[0.2,0.4,0.6,0.8,1.0]}}},
"layer":[
{"data":{"name":"bands"},"transform":[{"filter":"datum.g==='T4'"}],"mark":{"type":"area","orient":"horizontal","interpolate":"monotone","color":"#bfbfbf","clip":true},"encoding":{"x2":{"field":"hi"}}},
{"data":{"name":"lines"},"transform":[{"filter":"datum.g==='T4' && datum.k==='m'"}],"mark":{"type":"line","interpolate":"monotone","color":"#D55E00","strokeWidth":3,"clip":true}},
{"data":{"name":"notes"},"transform":[{"filter":"datum.g==='T4'"}],"mark":{"type":"text","align":"right","baseline":"alphabetic","dx":-5,"dy":-21,"fontSize":13},"encoding":{"text":{"field":"a"},"x":{"value":"width"},"y":{"value":"height"}}},
{"data":{"name":"notes"},"transform":[{"filter":"datum.g==='T4'"}],"mark":{"type":"text","align":"right","baseline":"alphabetic","dx":-5,"dy":-4,"fontSize":13,"fontStyle":"italic"},"encoding":{"text":{"field":"b"},"x":{"value":"width"},"y":{"value":"height"}}}
]},
{"width":228,"height":228,"title":"Southern mixed",
"encoding":{"x":{"field":"x","type":"quantitative","scale":{"domain":[0,50],"nice":false,"zero":false},"axis":{"title":"iₚ (mm hr⁻¹)","values":[0,10,20,30,40,50],"format":"d"}},"y":{"field":"p","type":"quantitative","scale":{"domain":[0.09,1],"nice":false,"zero":false},"axis":{"title":null,"labels":false,"values":[0.2,0.4,0.6,0.8,1.0]}}},
"layer":[
{"data":{"name":"bands"},"transform":[{"filter":"datum.g==='T5'"}],"mark":{"type":"area","orient":"horizontal","interpolate":"monotone","color":"#bfbfbf","clip":true},"encoding":{"x2":{"field":"hi"}}},
{"data":{"name":"lines"},"transform":[{"filter":"datum.g==='T5' && datum.k==='m'"}],"mark":{"type":"line","interpolate":"monotone","color":"#CC79A7","strokeWidth":3,"clip":true}},
{"data":{"name":"notes"},"transform":[{"filter":"datum.g==='T5'"}],"mark":{"type":"text","align":"right","baseline":"alphabetic","dx":-5,"dy":-21,"fontSize":13},"encoding":{"text":{"field":"a"},"x":{"value":"width"},"y":{"value":"height"}}},
{"data":{"name":"notes"},"transform":[{"filter":"datum.g==='T5'"}],"mark":{"type":"text","align":"right","baseline":"alphabetic","dx":-5,"dy":-4,"fontSize":13,"fontStyle":"italic"},"encoding":{"text":{"field":"b"},"x":{"value":"width"},"y":{"value":"height"}}}
]}
],"spacing":26,"bounds":"flush"},
{"hconcat":[
{"width":228,"height":228,
"encoding":{"x":{"field":"x","type":"quantitative","scale":{"domain":[0,5],"nice":false,"zero":false},"axis":{"title":"iq (mm hr⁻¹)","values":[0,1,2,3,4,5],"format":"d"}},"y":{"field":"p","type":"quantitative","scale":{"domain":[0.09,1],"nice":false,"zero":false},"axis":{"title":"Probability","values":[0.2,0.4,0.6,0.8,1.0],"format":".1f"}}},
"layer":[
{"data":{"name":"bands"},"transform":[{"filter":"datum.g==='B1'"}],"mark":{"type":"area","orient":"horizontal","interpolate":"monotone","color":"#bfbfbf","clip":true},"encoding":{"x2":{"field":"hi"}}},
{"data":{"name":"lines"},"transform":[{"filter":"datum.g==='B1' && (datum.k==='s' || datum.k==='d')"}],"mark":{"type":"line","interpolate":"monotone","color":"#bfbfbf","strokeWidth":1.3,"clip":true},"encoding":{"detail":{"field":"i"},"strokeDash":{"field":"k","type":"nominal","scale":{"domain":["s","d"],"range":[[1,0],[6,3]]},"legend":null}}},
{"data":{"name":"lines"},"transform":[{"filter":"datum.g==='B1' && datum.k==='m'"}],"mark":{"type":"line","interpolate":"monotone","color":"#0072B2","strokeWidth":3,"clip":true}},
{"data":{"name":"notes"},"transform":[{"filter":"datum.g==='B1'"}],"mark":{"type":"text","align":"right","baseline":"alphabetic","dx":-5,"dy":-21,"fontSize":13},"encoding":{"text":{"field":"a"},"x":{"value":"width"},"y":{"value":"height"}}},
{"data":{"name":"notes"},"transform":[{"filter":"datum.g==='B1'"}],"mark":{"type":"text","align":"right","baseline":"alphabetic","dx":-5,"dy":-4,"fontSize":13,"fontStyle":"italic"},"encoding":{"text":{"field":"b"},"x":{"value":"width"},"y":{"value":"height"}}}
]},
{"width":228,"height":228,
"encoding":{"x":{"field":"x","type":"quantitative","scale":{"domain":[0,5],"nice":false,"zero":false},"axis":{"title":"iq (mm hr⁻¹)","values":[0,1,2,3,4,5],"format":"d"}},"y":{"field":"p","type":"quantitative","scale":{"domain":[0.09,1],"nice":false,"zero":false},"axis":{"title":null,"labels":false,"values":[0.2,0.4,0.6,0.8,1.0]}}},
"layer":[
{"data":{"name":"bands"},"transform":[{"filter":"datum.g==='B2'"}],"mark":{"type":"area","orient":"horizontal","interpolate":"monotone","color":"#bfbfbf","clip":true},"encoding":{"x2":{"field":"hi"}}},
{"data":{"name":"lines"},"transform":[{"filter":"datum.g==='B2' && (datum.k==='s' || datum.k==='d')"}],"mark":{"type":"line","interpolate":"monotone","color":"#bfbfbf","strokeWidth":1.3,"clip":true},"encoding":{"detail":{"field":"i"},"strokeDash":{"field":"k","type":"nominal","scale":{"domain":["s","d"],"range":[[1,0],[6,3]]},"legend":null}}},
{"data":{"name":"lines"},"transform":[{"filter":"datum.g==='B2' && datum.k==='o'"}],"mark":{"type":"line","interpolate":"monotone","color":"#a0a0a0","strokeWidth":3.5,"strokeCap":"round","strokeDash":[0.1,7.5],"clip":true},"encoding":{"detail":{"field":"i"}}},
{"data":{"name":"lines"},"transform":[{"filter":"datum.g==='B2' && datum.k==='m'"}],"mark":{"type":"line","interpolate":"monotone","color":"#56B4E9","strokeWidth":3,"clip":true}},
{"data":{"name":"notes"},"transform":[{"filter":"datum.g==='B2'"}],"mark":{"type":"text","align":"right","baseline":"alphabetic","dx":-5,"dy":-21,"fontSize":13},"encoding":{"text":{"field":"a"},"x":{"value":"width"},"y":{"value":"height"}}},
{"data":{"name":"notes"},"transform":[{"filter":"datum.g==='B2'"}],"mark":{"type":"text","align":"right","baseline":"alphabetic","dx":-5,"dy":-4,"fontSize":13,"fontStyle":"italic"},"encoding":{"text":{"field":"b"},"x":{"value":"width"},"y":{"value":"height"}}}
]},
{"width":228,"height":228,
"encoding":{"x":{"field":"x","type":"quantitative","scale":{"domain":[0,5],"nice":false,"zero":false},"axis":{"title":"iq (mm hr⁻¹)","values":[0,1,2,3,4,5],"format":"d"}},"y":{"field":"p","type":"quantitative","scale":{"domain":[0.09,1],"nice":false,"zero":false},"axis":{"title":null,"labels":false,"values":[0.2,0.4,0.6,0.8,1.0]}}},
"layer":[
{"data":{"name":"bands"},"transform":[{"filter":"datum.g==='B3'"}],"mark":{"type":"area","orient":"horizontal","interpolate":"monotone","color":"#bfbfbf","clip":true},"encoding":{"x2":{"field":"hi"}}},
{"data":{"name":"lines"},"transform":[{"filter":"datum.g==='B3' && datum.k==='s'"}],"mark":{"type":"line","interpolate":"monotone","color":"#bfbfbf","strokeWidth":1.3,"clip":true},"encoding":{"detail":{"field":"i"}}},
{"data":{"name":"lines"},"transform":[{"filter":"datum.g==='B3' && datum.k==='m'"}],"mark":{"type":"line","interpolate":"monotone","color":"#F0E442","strokeWidth":3,"clip":true}},
{"data":{"name":"notes"},"transform":[{"filter":"datum.g==='B3'"}],"mark":{"type":"text","align":"right","baseline":"alphabetic","dx":-5,"dy":-21,"fontSize":13},"encoding":{"text":{"field":"a"},"x":{"value":"width"},"y":{"value":"height"}}},
{"data":{"name":"notes"},"transform":[{"filter":"datum.g==='B3'"}],"mark":{"type":"text","align":"right","baseline":"alphabetic","dx":-5,"dy":-4,"fontSize":13,"fontStyle":"italic"},"encoding":{"text":{"field":"b"},"x":{"value":"width"},"y":{"value":"height"}}}
]},
{"width":228,"height":228,
"encoding":{"x":{"field":"x","type":"quantitative","scale":{"domain":[0,5],"nice":false,"zero":false},"axis":{"title":"iq (mm hr⁻¹)","values":[0,1,2,3,4,5],"format":"d"}},"y":{"field":"p","type":"quantitative","scale":{"domain":[0.09,1],"nice":false,"zero":false},"axis":{"title":null,"labels":false,"values":[0.2,0.4,0.6,0.8,1.0]}}},
"layer":[
{"data":{"name":"bands"},"transform":[{"filter":"datum.g==='B4'"}],"mark":{"type":"area","orient":"horizontal","interpolate":"monotone","color":"#bfbfbf","clip":true},"encoding":{"x2":{"field":"hi"}}},
{"data":{"name":"lines"},"transform":[{"filter":"datum.g==='B4' && (datum.k==='s' || datum.k==='d')"}],"mark":{"type":"line","interpolate":"monotone","color":"#bfbfbf","strokeWidth":1.3,"clip":true},"encoding":{"detail":{"field":"i"},"strokeDash":{"field":"k","type":"nominal","scale":{"domain":["s","d"],"range":[[1,0],[6,3]]},"legend":null}}},
{"data":{"name":"lines"},"transform":[{"filter":"datum.g==='B4' && datum.k==='m'"}],"mark":{"type":"line","interpolate":"monotone","color":"#D55E00","strokeWidth":3,"clip":true}},
{"data":{"name":"notes"},"transform":[{"filter":"datum.g==='B4'"}],"mark":{"type":"text","align":"right","baseline":"alphabetic","dx":-5,"dy":-21,"fontSize":13},"encoding":{"text":{"field":"a"},"x":{"value":"width"},"y":{"value":"height"}}},
{"data":{"name":"notes"},"transform":[{"filter":"datum.g==='B4'"}],"mark":{"type":"text","align":"right","baseline":"alphabetic","dx":-5,"dy":-4,"fontSize":13,"fontStyle":"italic"},"encoding":{"text":{"field":"b"},"x":{"value":"width"},"y":{"value":"height"}}}
]},
{"width":228,"height":228,
"encoding":{"x":{"field":"x","type":"quantitative","scale":{"domain":[0,5],"nice":false,"zero":false},"axis":{"title":"iq (mm hr⁻¹)","values":[0,1,2,3,4,5],"format":"d"}},"y":{"field":"p","type":"quantitative","scale":{"domain":[0.09,1],"nice":false,"zero":false},"axis":{"title":null,"labels":false,"values":[0.2,0.4,0.6,0.8,1.0]}}},
"layer":[
{"data":{"name":"bands"},"transform":[{"filter":"datum.g==='B5'"}],"mark":{"type":"area","orient":"horizontal","interpolate":"monotone","color":"#bfbfbf","clip":true},"encoding":{"x2":{"field":"hi"}}},
{"data":{"name":"lines"},"transform":[{"filter":"datum.g==='B5' && datum.k==='s'"}],"mark":{"type":"line","interpolate":"monotone","color":"#bfbfbf","strokeWidth":1.3,"clip":true},"encoding":{"detail":{"field":"i"}}},
{"data":{"name":"lines"},"transform":[{"filter":"datum.g==='B5' && datum.k==='o'"}],"mark":{"type":"line","interpolate":"monotone","color":"#a0a0a0","strokeWidth":3.5,"strokeCap":"round","strokeDash":[0.1,7.5],"clip":true},"encoding":{"detail":{"field":"i"}}},
{"data":{"name":"lines"},"transform":[{"filter":"datum.g==='B5' && datum.k==='m'"}],"mark":{"type":"line","interpolate":"monotone","color":"#CC79A7","strokeWidth":3,"clip":true}},
{"data":{"name":"notes"},"transform":[{"filter":"datum.g==='B5'"}],"mark":{"type":"text","align":"right","baseline":"alphabetic","dx":-5,"dy":-21,"fontSize":13},"encoding":{"text":{"field":"a"},"x":{"value":"width"},"y":{"value":"height"}}},
{"data":{"name":"notes"},"transform":[{"filter":"datum.g==='B5'"}],"mark":{"type":"text","align":"right","baseline":"alphabetic","dx":-5,"dy":-4,"fontSize":13,"fontStyle":"italic"},"encoding":{"text":{"field":"b"},"x":{"value":"width"},"y":{"value":"height"}}}
]}
],"spacing":26,"bounds":"flush"}
],
"config":{
"font":"Liberation Sans",
"view":{"stroke":"#222","strokeWidth":1},
"axis":{"domain":false,"grid":false,"tickColor":"#222","tickSize":4,"labelFontSize":13,"labelColor":"#000","titleFontSize":14,"titleColor":"#000","titleFontWeight":"normal","labelPadding":3,"titlePadding":3,"labelFlush":false},
"axisY":{"titlePadding":5},
"title":{"fontSize":18.5,"fontWeight":"normal","offset":6,"color":"#000"}
}
}
